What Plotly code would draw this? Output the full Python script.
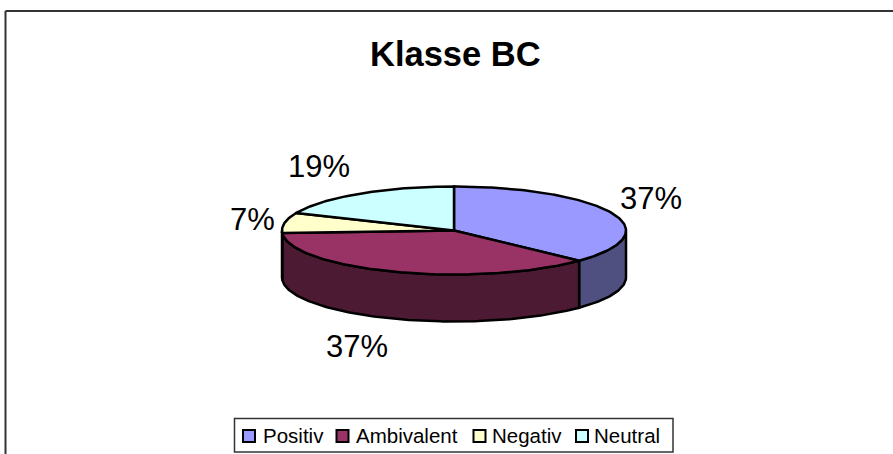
import numpy as np
import plotly.graph_objects as go

title = "Klasse BC"
categories = ["Positiv", "Ambivalent", "Negativ", "Neutral"]
values = [10, 10, 2, 5]
top_colors = ["#9999FF", "#993366", "#FFFFCC", "#CCFFFF"]
side_colors = ["#4F4F80", "#4D1A33", "#808066", "#668080"]

W, H = 893, 454
CX, CY, RX, RY, DEPTH = 454, 230.5, 172, 44, 47
FONT = "Liberation Sans, Arial, sans-serif"

fractions = np.array(values, dtype=float) / sum(values)
edges = np.concatenate([[0], np.cumsum(fractions)]) * 2 * np.pi


def arc(a0, a1, dy=0.0):
    t = np.linspace(a0, a1, max(2, int((a1 - a0) * 60)))
    return CX + RX * np.sin(t), CY - RY * np.cos(t) + dy


fig = go.Figure()
# side walls: only the part of each slice that faces the viewer
for i, name in enumerate(categories):
    a0 = max(edges[i], np.pi / 2)
    a1 = min(edges[i + 1], 3 * np.pi / 2)
    if a1 <= a0:
        continue
    xt, yt = arc(a0, a1)
    xb, yb = arc(a0, a1, DEPTH)
    fig.add_trace(go.Scatter(
        x=np.r_[xt, xb[::-1], xt[0]], y=np.r_[yt, yb[::-1], yt[0]],
        mode="lines", fill="toself", fillcolor=side_colors[i],
        line=dict(color="black", width=2.5), hoverinfo="skip", showlegend=False))
# top faces
for i, name in enumerate(categories):
    xa, ya = arc(edges[i], edges[i + 1])
    fig.add_trace(go.Scatter(
        x=np.r_[CX, xa, CX], y=np.r_[CY, ya, CY],
        mode="lines", fill="toself", fillcolor=top_colors[i],
        line=dict(color="black", width=2.5), name=name,
        text=f"{name}: {fractions[i]:.0%}", hoverinfo="text", showlegend=False))

annotations = [dict(x=455, y=54, text=f"<b>{title}</b>", showarrow=False,
                    font=dict(family=FONT, size=34.5, color="black"))]
label_pos = [(651, 198), (357, 346), (252, 219), (319, 166)]
for (lx, ly), fr in zip(label_pos, fractions):
    annotations.append(dict(x=lx, y=ly, text=f"{fr:.0%}", showarrow=False,
                            font=dict(family=FONT, size=31, color="black")))

shapes = [
    dict(type="line", x0=5.5, y0=11, x1=W, y1=11, line=dict(color="#333333", width=2)),
    dict(type="line", x0=5.5, y0=11, x1=5.5, y1=H, line=dict(color="#333333", width=2)),
    dict(type="rect", x0=234.5, y0=418.5, x1=673, y1=452, fillcolor="white",
         line=dict(color="#333333", width=1.5)),
]
legend_swatch_x = [243, 336.5, 473.5, 576]
legend_text_x = [261, 354, 490, 592]
for sx, tx, name, col in zip(legend_swatch_x, legend_text_x, categories, top_colors):
    shapes.append(dict(type="rect", x0=sx, y0=430, x1=sx + 12, y1=442, fillcolor=col,
                       line=dict(color="black", width=2)))
    annotations.append(dict(x=tx, y=435.5, text=name, showarrow=False, xanchor="left",
                            font=dict(family=FONT, size=20.5, color="black")))

fig.update_layout(
    width=W, height=H, margin=dict(l=0, r=0, t=0, b=0),
    paper_bgcolor="white", plot_bgcolor="white", showlegend=False,
    xaxis=dict(range=[0, W], visible=False, fixedrange=True),
    yaxis=dict(range=[H, 0], visible=False, fixedrange=True),
    annotations=annotations, shapes=shapes,
)
fig.write_html("out.html", config=dict(displayModeBar=False),
               post_script="document.body.style.margin='0';document.body.style.overflow='hidden';")
